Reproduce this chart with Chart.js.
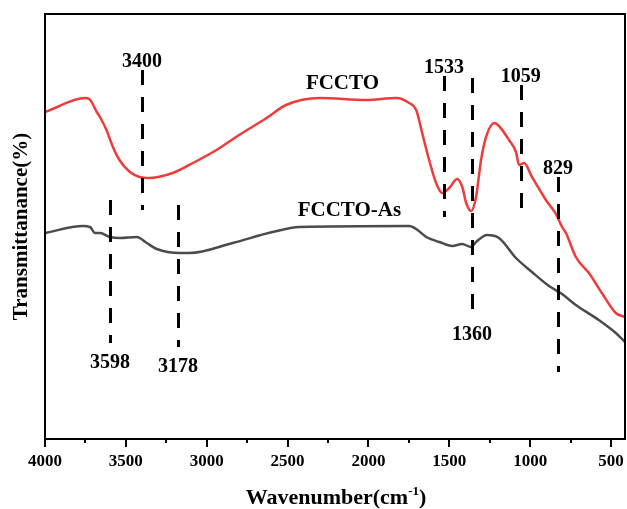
<!DOCTYPE html>
<html>
<head>
<meta charset="utf-8">
<script src="https://cdn.jsdelivr.net/npm/chart.js@4.4.0/dist/chart.umd.min.js"></script>
<style>
  html, body { margin: 0; padding: 0; background: #fff; }
  #wrap { width: 627px; height: 509px; }
</style>
</head>
<body>
<div id="wrap"><canvas id="ftir" width="627" height="509"></canvas></div>
<script>
// FTIR spectra, transmittance in arbitrary units (offset traces)
const fcctoWave = [4000, 3750, 3720, 3680, 3660, 3620, 3580, 3540, 3475, 3415, 3365, 3210, 3085, 2940, 2800, 2630, 2510, 2300, 2013, 1828, 1748, 1705, 1668, 1625, 1582, 1544, 1500, 1452, 1420, 1396, 1365, 1335, 1304, 1273, 1223, 1193, 1131, 1088, 1069, 1038, 989, 903, 841, 803, 779, 718, 637, 557, 471, 414];
const fcctoT = [327, 341, 339, 327, 322, 309, 292, 279, 267, 262, 261, 266, 276, 289, 304, 321, 334, 341, 339, 341, 336, 329, 306, 279, 256, 246, 251, 260, 252, 236, 228, 242, 279, 302, 316, 313, 299, 287, 274, 276, 262, 239, 225, 212, 206, 182, 166, 146, 126, 122];

const asWave = [4000, 3765, 3722, 3691, 3660, 3599, 3537, 3432, 3371, 3309, 3167, 3105, 2840, 2593, 2427, 1748, 1705, 1643, 1562, 1482, 1421, 1365, 1335, 1267, 1193, 1088, 989, 884, 803, 718, 576, 471, 414];
const asT = [206, 213, 212, 206, 206, 202, 201, 202, 196, 190, 186, 186, 196, 207, 212, 213, 210, 202, 197, 193, 195, 192, 197, 204, 201, 181, 167, 153, 145, 134, 119, 106, 97];

const xTicks = [4000, 3500, 3000, 2500, 2000, 1500, 1000, 500];
const xMinorTicks = [3750, 3250, 2750, 2250, 1750, 1250, 750];

// assigned bands: dashed marker spans and which end carries the label
const peakWave = [3400, 3598, 3178, 1533, 1360, 1059, 829];
const peakTop = [369, 239, 234, 363, 361, 354, 262];
const peakBottom = [229, 96, 92, 222, 124, 219, 67];
const peakSide = ['top', 'bottom', 'bottom', 'top', 'bottom', 'top', 'top'];

const serif = "'Times New Roman', 'Liberation Serif', serif";

const toPoints = (xs, ys) => xs.map((v, i) => ({ x: v, y: ys[i] }));

const ftirDecor = {
  id: 'ftirDecor',
  afterDraw(chart) {
    const { ctx, chartArea: a, scales: { x, y } } = chart;
    ctx.save();

    // dashed band markers
    ctx.strokeStyle = '#000';
    ctx.lineWidth = 3;
    ctx.setLineDash([15, 12]);
    peakWave.forEach((w, i) => {
      const px = Math.round(x.getPixelForValue(w)) + 0.5;
      ctx.beginPath();
      ctx.moveTo(px, y.getPixelForValue(peakTop[i]));
      ctx.lineTo(px, y.getPixelForValue(peakBottom[i]));
      ctx.stroke();
    });
    ctx.setLineDash([]);

    // band labels
    ctx.fillStyle = '#000';
    ctx.font = 'bold 20px ' + serif;
    ctx.textAlign = 'center';
    peakWave.forEach((w, i) => {
      const px = x.getPixelForValue(w);
      if (peakSide[i] === 'top') {
        ctx.textBaseline = 'alphabetic';
        ctx.fillText(String(w), px, y.getPixelForValue(peakTop[i]) - 3);
      } else {
        ctx.textBaseline = 'top';
        ctx.fillText(String(w), px, y.getPixelForValue(peakBottom[i]) + 10);
      }
    });

    // trace names
    ctx.font = 'bold 21px ' + serif;
    ctx.textBaseline = 'alphabetic';
    ctx.fillText('FCCTO', x.getPixelForValue(2161), y.getPixelForValue(350));
    ctx.fillText('FCCTO-As', x.getPixelForValue(2118), y.getPixelForValue(223));

    // frame
    ctx.lineWidth = 2;
    ctx.strokeStyle = '#000';
    ctx.strokeRect(a.left, a.top, a.right - a.left, a.bottom - a.top);

    // tick marks below the x axis
    const tick = (w, len) => {
      const px = Math.round(x.getPixelForValue(w));
      ctx.beginPath();
      ctx.moveTo(px, a.bottom);
      ctx.lineTo(px, a.bottom + len);
      ctx.stroke();
    };
    xTicks.forEach(w => tick(w, 8));
    xMinorTicks.forEach(w => tick(w, 4));

    // axis titles
    ctx.font = 'bold 21px ' + serif;
    ctx.textAlign = 'center';
    ctx.textBaseline = 'middle';
    ctx.save();
    ctx.translate(22, (a.top + a.bottom) / 2);
    ctx.rotate(-Math.PI / 2);
    ctx.fillText('Transmittanance(%)', 0, 0);
    ctx.restore();

    const big = 'bold 22px ' + serif, small = 'bold 13px ' + serif;
    const t1 = 'Wavenumber(cm', sup = '-1', t2 = ')';
    ctx.font = big;
    const w1 = ctx.measureText(t1).width, w3 = ctx.measureText(t2).width;
    ctx.font = small;
    const w2 = ctx.measureText(sup).width;
    let cx = 336 - (w1 + w2 + w3) / 2;
    const base = 504;
    ctx.textAlign = 'left';
    ctx.textBaseline = 'alphabetic';
    ctx.font = big; ctx.fillText(t1, cx, base); cx += w1;
    ctx.font = small; ctx.fillText(sup, cx, base - 9); cx += w2;
    ctx.font = big; ctx.fillText(t2, cx, base);

    ctx.restore();
  }
};

new Chart(document.getElementById('ftir'), {
  type: 'line',
  data: {
    datasets: [
      {
        label: 'FCCTO',
        data: toPoints(fcctoWave, fcctoT),
        borderColor: '#ee3b3b',
        borderWidth: 2.5,
        pointRadius: 0,
        cubicInterpolationMode: 'monotone'
      },
      {
        label: 'FCCTO-As',
        data: toPoints(asWave, asT),
        borderColor: '#4b4b4b',
        borderWidth: 2.5,
        pointRadius: 0,
        cubicInterpolationMode: 'monotone'
      }
    ]
  },
  options: {
    responsive: false,
    animation: false,
    layout: { padding: { left: 45, top: 14, right: 2, bottom: 0 } },
    plugins: { legend: { display: false }, tooltip: { enabled: false } },
    scales: {
      x: {
        type: 'linear',
        reverse: true,
        min: 414,
        max: 4000,
        afterBuildTicks: s => { s.ticks = xTicks.map(v => ({ value: v })); },
        afterFit: s => {
          s.height = 70;
          s.paddingLeft = 0;
          s.paddingRight = 0;
        },
        grid: { display: false, drawTicks: false },
        border: { display: false },
        ticks: {
          color: '#000',
          padding: 12,
          maxRotation: 0,
          autoSkip: false,
          callback: v => String(v),
          font: { family: serif, size: 17, weight: 'bold' }
        }
      },
      y: {
        display: false,
        min: 0,
        max: 425
      }
    }
  },
  plugins: [ftirDecor]
});
</script>
</body>
</html>
